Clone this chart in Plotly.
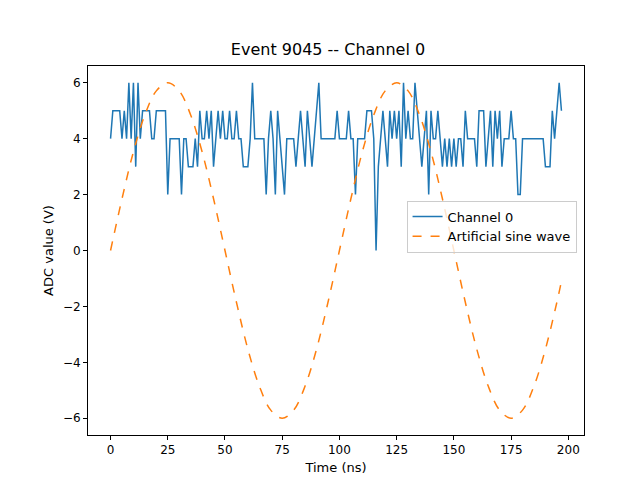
import plotly.graph_objects as go

# Channel 0 samples, one per ns
adc = [
    4, 5, 5, 5, 5, 4, 5, 4, 6, 4, 6, 3, 6, 4, 5, 5, 5, 5, 4, 4,
    5, 5, 5, 5, 5, 2, 4, 4, 4, 4, 4, 2, 4, 4, 3, 3, 3, 4, 3, 5,
    4, 4, 5, 4, 5, 3, 4, 5, 4, 5, 4, 4, 5, 4, 4, 5, 4, 4, 3, 3,
    3, 4, 6, 4, 4, 4, 4, 4, 2, 4, 5, 4, 2, 5, 4, 3, 2, 4, 4, 4,
    4, 3, 4, 5, 4, 3, 5, 4, 3, 4, 5, 6, 4, 4, 4, 4, 4, 4, 4, 5,
    4, 4, 4, 4, 5, 4, 4, 2, 4, 4, 4, 4, 5, 5, 5, 4, 0, 3, 4, 5,
    4, 3, 5, 4, 5, 4, 5, 3, 6, 4, 5, 4, 4, 6, 5, 4, 3, 4, 5, 2,
    5, 4, 4, 5, 4, 3, 4, 3, 4, 3, 4, 3, 4, 4, 3, 5, 4, 4, 4, 4,
    3, 5, 5, 5, 3, 4, 5, 3, 5, 4, 5, 3, 4, 4, 4, 5, 4, 4, 2, 2,
    4, 4, 4, 4, 4, 4, 4, 4, 4, 4, 3, 3, 3, 5, 4, 5, 6, 5,
]
time_ns = list(range(len(adc)))

# Artificial sine wave, read every 5 ns
sine_t = list(range(0, 200, 5)) + [197]
sine_v = [0, 1.85, 3.53, 4.85, 5.71, 6, 5.71, 4.85, 3.53, 1.85,
          0, -1.85, -3.53, -4.85, -5.71, -6, -5.71, -4.85, -3.53, -1.85,
          0, 1.85, 3.53, 4.85, 5.71, 6, 5.71, 4.85, 3.53, 1.85,
          0, -1.85, -3.53, -4.85, -5.71, -6, -5.71, -4.85, -3.53, -1.85, -1.1]

fig = go.Figure()
fig.add_trace(go.Scatter(x=time_ns, y=adc, mode="lines", name="Channel 0",
                         line=dict(color="#1f77b4", width=1.5)))
fig.add_trace(go.Scatter(x=sine_t, y=sine_v, mode="lines", name="Artificial sine wave",
                         line=dict(color="#ff7f0e", width=1.5, dash="dash", shape="spline")))

axis = dict(showgrid=False, zeroline=False, showline=True, linecolor="black", mirror=True,
            ticks="outside", tickcolor="black", ticklen=4, title_font=dict(size=13),
            tickfont=dict(size=12))
fig.update_layout(
    width=640, height=480,
    plot_bgcolor="white", paper_bgcolor="white",
    font=dict(family="DejaVu Sans", size=12, color="black"),
    title=dict(text="Event 9045 -- Channel 0", x=0.5, xanchor="center", y=0.925, font=dict(size=16)),
    margin=dict(l=80, r=64, t=58, b=53, autoexpand=False),
    xaxis=dict(title=dict(text="Time (ns)", standoff=6), range=[-9.85, 206.85],
               tickvals=[0, 25, 50, 75, 100, 125, 150, 175, 200], **axis),
    yaxis=dict(title=dict(text="ADC value (V)", standoff=6), range=[-6.6, 6.6],
               tickvals=[-6, -4, -2, 0, 2, 4, 6], **axis),
    legend=dict(x=0.985, y=0.565, xanchor="right", yanchor="middle", bordercolor="#cccccc",
                borderwidth=1, bgcolor="rgba(255,255,255,0.8)", font=dict(size=13)),
)
fig.write_html("out.html")
